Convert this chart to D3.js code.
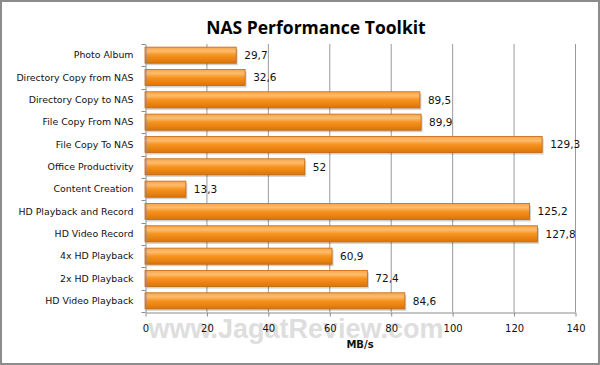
<!DOCTYPE html>
<html>
<head>
<meta charset="utf-8">
<title>NAS Performance Toolkit</title>
<script src="https://d3js.org/d3.v7.min.js"></script>
<style>
  body { margin: 0; background: #fff; }
  svg { display: block; }
</style>
</head>
<body>
<div id="chart"></div>
<script>
const categories = ["Photo Album", "Directory Copy from NAS", "Directory Copy to NAS", "File Copy From NAS",
  "File Copy To NAS", "Office Productivity", "Content Creation", "HD Playback and Record",
  "HD Video Record", "4x HD Playback", "2x HD Playback", "HD Video Playback"];
const values = [29.7, 32.6, 89.5, 89.9, 129.3, 52, 13.3, 125.2, 127.8, 60.9, 72.4, 84.6];
const labels = ["29,7", "32,6", "89,5", "89,9", "129,3", "52", "13,3", "125,2", "127,8", "60,9", "72,4", "84,6"];
const xTicks = [0, 20, 40, 60, 80, 100, 120, 140];

const width = 600, height = 365;
const margin = { top: 44, right: 25, bottom: 53, left: 145 };

const svg = d3.select("#chart").append("svg")
  .attr("width", width)
  .attr("height", height);

// gradient for the bars (light top, dark bottom)
const defs = svg.append("defs");
const grad = defs.append("linearGradient")
  .attr("id", "barGrad").attr("x1", 0).attr("y1", 0).attr("x2", 0).attr("y2", 1);
grad.append("stop").attr("offset", "0%").attr("stop-color", "#f9a548");
grad.append("stop").attr("offset", "25%").attr("stop-color", "#fdbc6c");
grad.append("stop").attr("offset", "50%").attr("stop-color", "#f7931e");
grad.append("stop").attr("offset", "100%").attr("stop-color", "#dc7409");

// frame
svg.append("rect")
  .attr("x", 1).attr("y", 1)
  .attr("width", width - 2).attr("height", height - 2)
  .attr("fill", "#fff").attr("stroke", "#8c8c8c").attr("stroke-width", 2);

const x = d3.scaleLinear().domain([0, 140]).range([margin.left, width - margin.right]);
const y = d3.scaleBand().domain(categories)
  .range([margin.top, height - margin.bottom])
  .paddingInner(0.28).paddingOuter(0.14);

const plotBottom = height - margin.bottom;

// grid lines
svg.append("g")
  .selectAll("line")
  .data(xTicks.slice(1))
  .join("line")
  .attr("x1", d => x(d) + 0.5).attr("x2", d => x(d) + 0.5)
  .attr("y1", margin.top).attr("y2", plotBottom)
  .attr("stroke", "#9a9a9a").attr("stroke-width", 1);

// bar shadows
svg.append("g")
  .selectAll("rect")
  .data(values)
  .join("rect")
  .attr("x", x(0) + 1.5)
  .attr("y", (d, i) => y(categories[i]) + 2)
  .attr("width", d => x(d) - x(0))
  .attr("height", y.bandwidth())
  .attr("fill", "#000").attr("opacity", 0.18);

// bars
svg.append("g")
  .selectAll("rect")
  .data(values)
  .join("rect")
  .attr("x", x(0))
  .attr("y", (d, i) => y(categories[i]))
  .attr("width", d => x(d) - x(0))
  .attr("height", y.bandwidth())
  .attr("fill", "url(#barGrad)")
  .attr("stroke", "#c4660a").attr("stroke-width", 0.8);

// value labels
svg.append("g")
  .selectAll("text")
  .data(values)
  .join("text")
  .attr("x", d => x(d) + 8)
  .attr("y", (d, i) => y(categories[i]) + y.bandwidth() / 2)
  .attr("dy", "0.35em")
  .attr("font-family", "DejaVu Sans, sans-serif")
  .attr("font-size", 10.5)
  .attr("fill", "#111")
  .text((d, i) => labels[i]);

// y axis
const yAxis = svg.append("g")
  .attr("transform", `translate(${x(0) + 0.5},0)`)
  .call(d3.axisLeft(y).tickSize(0).tickPadding(12));
yAxis.select(".domain").attr("stroke", "#8c8c8c");
yAxis.selectAll("text")
  .attr("font-family", "DejaVu Sans, sans-serif")
  .attr("font-size", 9.4)
  .attr("fill", "#111");
// tick marks between categories
const step = y.step();
yAxis.append("g")
  .selectAll("line")
  .data(d3.range(categories.length + 1))
  .join("line")
  .attr("x1", -4).attr("x2", 0)
  .attr("y1", i => Math.round(margin.top + i * step) + 0.5)
  .attr("y2", i => Math.round(margin.top + i * step) + 0.5)
  .attr("stroke", "#8c8c8c");

// watermark
svg.append("text")
  .attr("x", 296).attr("y", 338)
  .attr("text-anchor", "middle")
  .attr("font-family", "Liberation Sans, Arial, sans-serif")
  .attr("font-weight", "bold")
  .attr("font-size", 27)
  .attr("fill", "#d6d6d6")
  .attr("opacity", 0.8)
  .text("www.JagatReview.com");

// x axis
const xAxis = svg.append("g")
  .attr("transform", `translate(0.5,${plotBottom + 0.5})`)
  .call(d3.axisBottom(x).tickValues(xTicks).tickSize(4).tickPadding(8).tickSizeOuter(0));
xAxis.select(".domain").attr("stroke", "#8c8c8c");
xAxis.selectAll(".tick line").attr("stroke", "#8c8c8c");
xAxis.selectAll("text")
  .attr("font-family", "DejaVu Sans, sans-serif")
  .attr("font-size", 10)
  .attr("fill", "#111");

// axis title
svg.append("text")
  .attr("x", x(70)).attr("y", 348)
  .attr("text-anchor", "middle")
  .attr("font-family", "DejaVu Sans, sans-serif")
  .attr("font-weight", "bold")
  .attr("font-size", 10)
  .attr("fill", "#111")
  .text("MB/s");

// title
svg.append("text")
  .attr("x", 316).attr("y", 34)
  .attr("text-anchor", "middle")
  .attr("font-family", "Open Sans, sans-serif")
  .attr("font-weight", "bold")
  .attr("font-size", 17.5)
  .attr("fill", "#000")
  .text("NAS Performance Toolkit");
</script>
</body>
</html>
